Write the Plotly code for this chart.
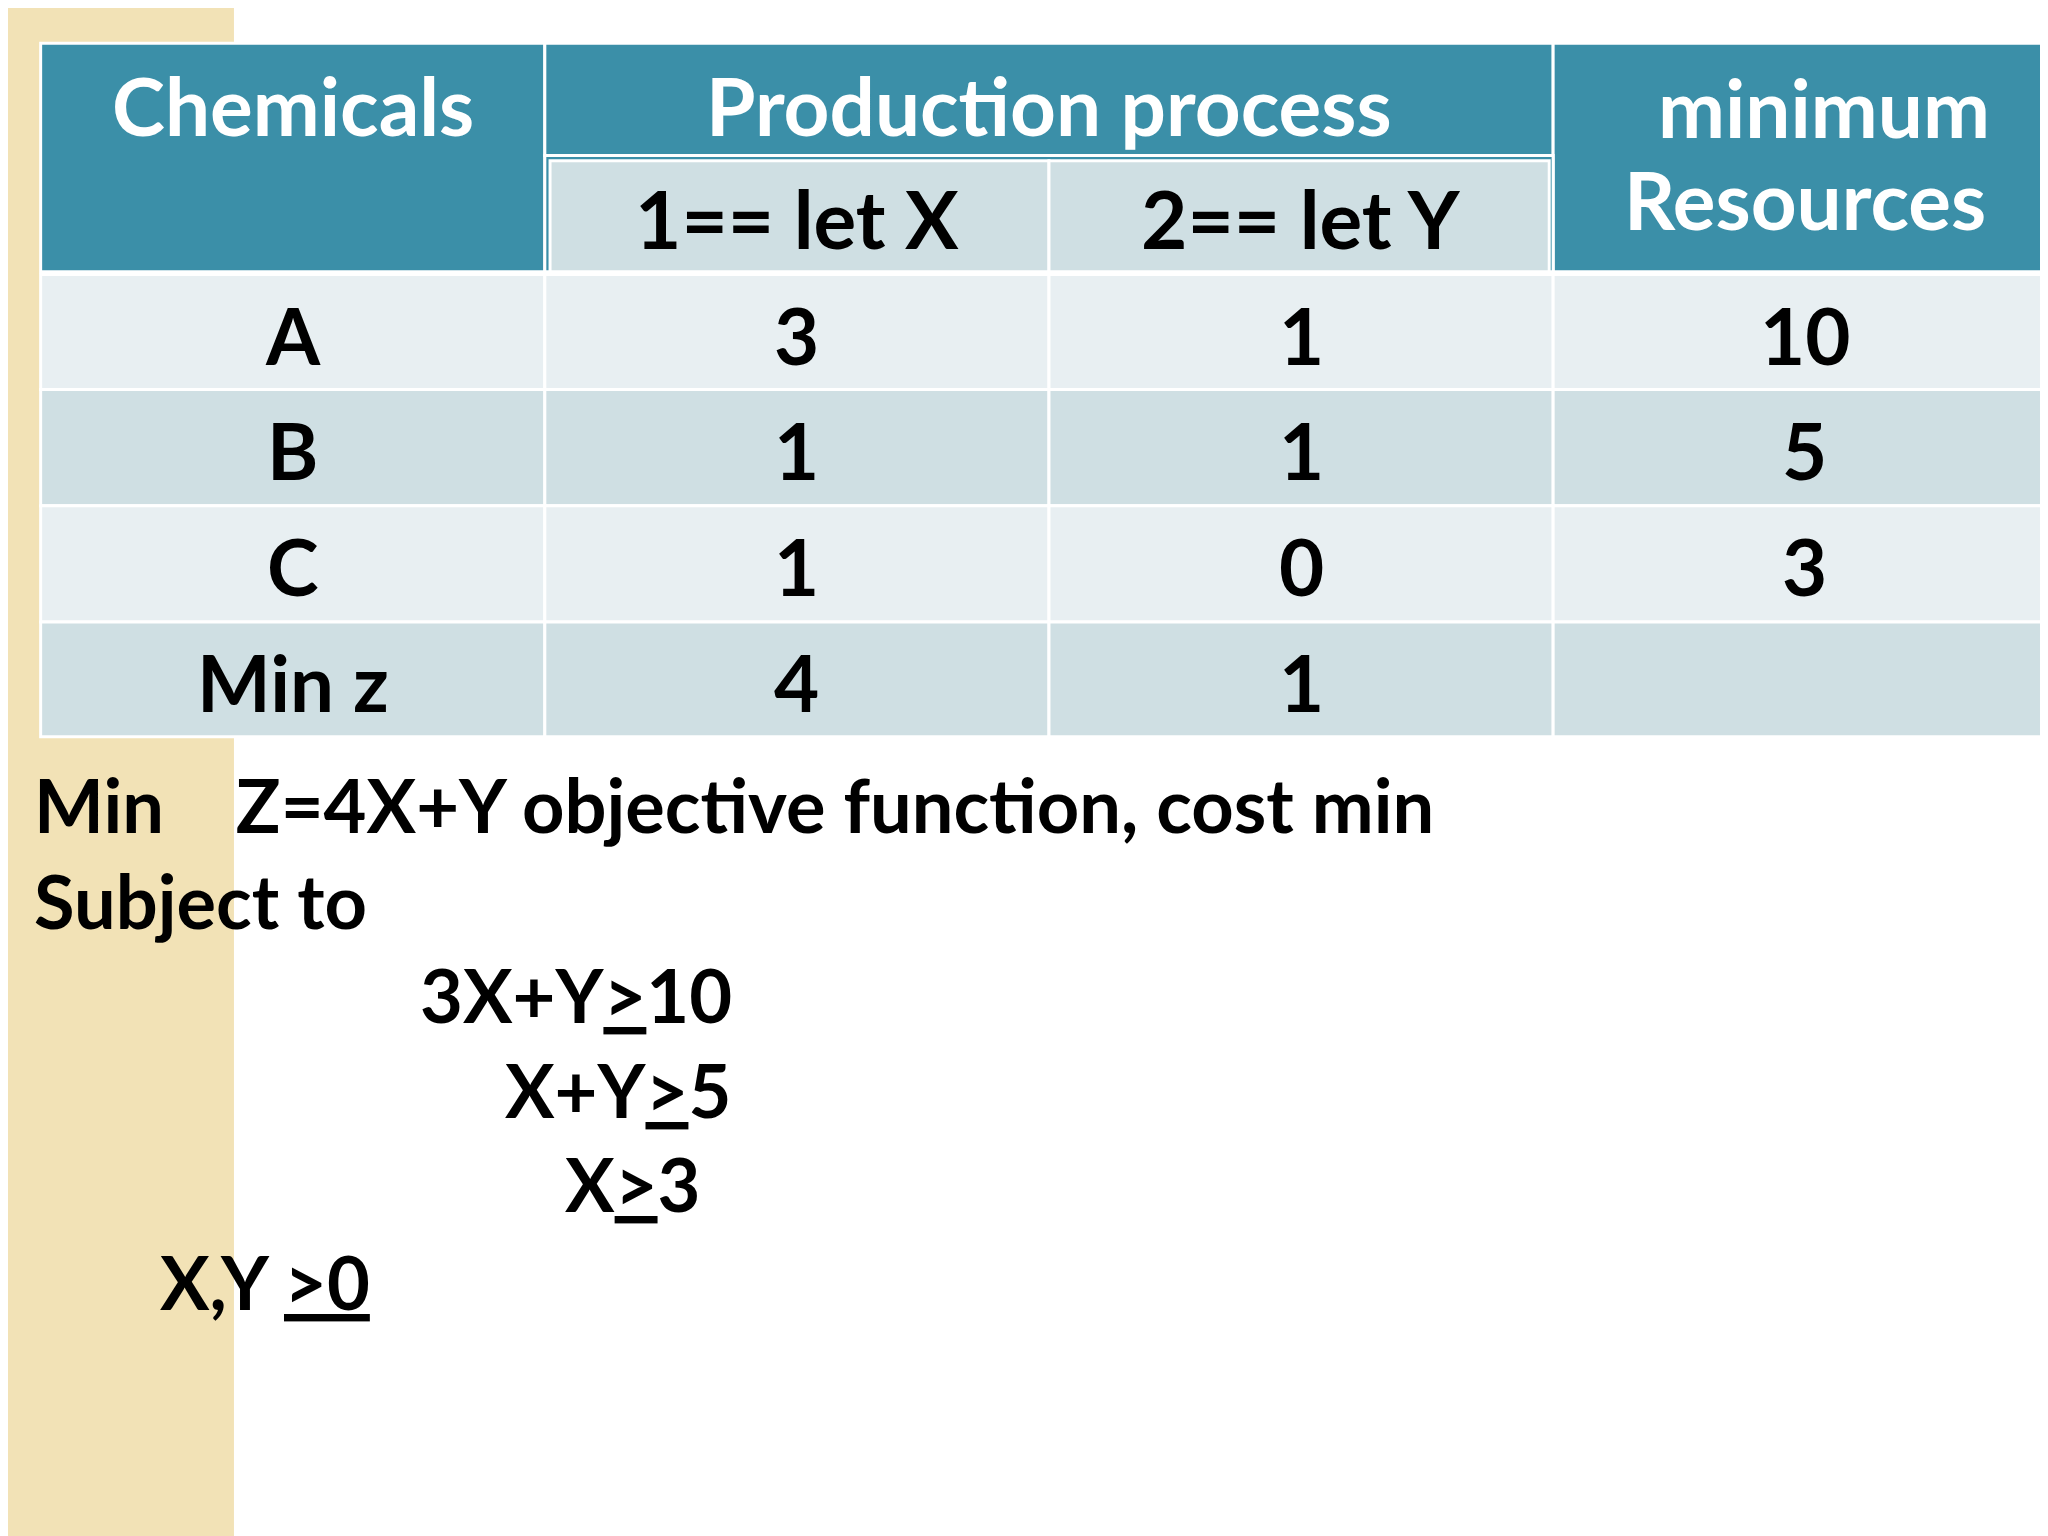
import plotly.graph_objects as go

# table content
row_labels = ["A", "B", "C", "Min z"]
x_values = ["3", "1", "1", "4"]
y_values = ["1", "1", "0", "1"]
resources = ["10", "5", "3", ""]
sub_headers = ["1== let X", "2== let Y"]

objective = "Min    Z=4X+Y objective function, cost min"
constraints = ["3X+Y<u>></u>10", "X+Y<u>></u>5", "X<u>></u>3"]

W, H = 1568, 1176  # work in reference pixel units, scaled to 2048x1536
TEAL = "#3B8FA8"
LIGHT = "#E8EFF2"
DARK = "#CFDFE3"
FONT = "Lato"

col_edges = [25, 411, 797, 1183, 1568]
row_edges = [204, 292, 381, 470, 558]

shapes = []
ann = []


def rect(x0, y0, x1, y1, color, line="white", lw=3):
    shapes.append(dict(type="rect", x0=x0, x1=x1, y0=y0, y1=y1, fillcolor=color,
                       line=dict(color=line, width=lw), layer="below"))


def text(x, y, s, size, color="black", anchor="center"):
    ann.append(dict(x=x, y=y, text=s, showarrow=False, xanchor=anchor, yanchor="middle",
                    font=dict(family=FONT, size=size, color=color)))


# background stripe
rect(0, 0, 173, H, "#F2E2B6", line="#F2E2B6", lw=0)

# header
rect(25, 27, 411, 202, TEAL)
rect(411, 27, 1183, 113, TEAL)
rect(1183, 27, 1568, 202, TEAL)
rect(411, 113, 1183, 202, TEAL)
rect(415, 117, 797, 202, DARK)
rect(797, 117, 1180, 202, DARK)
text(218, 74, "<b>Chemicals</b>", 80, "white")
text(797, 74, "<b>Production process</b>", 80, "white")
text(1390, 76, "<b>minimum</b>", 80, "white")
text(1376, 146, "<b>Resources</b>", 80, "white")
for i, s in enumerate(sub_headers):
    text((col_edges[i + 1] + col_edges[i + 2]) / 2, 161, "<b>" + s + "</b>", 80)

# body
for r in range(4):
    color = LIGHT if r % 2 == 0 else DARK
    y0, y1 = row_edges[r], row_edges[r + 1]
    cells = [row_labels[r], x_values[r], y_values[r], resources[r]]
    for c in range(4):
        rect(col_edges[c], y0, col_edges[c + 1], y1, color)
        text((col_edges[c] + col_edges[c + 1]) / 2, (y0 + y1) / 2 + 2, "<b>" + cells[c] + "</b>", 78)

# formulation
text(18, 610, "<b>" + objective + "</b>", 74, anchor="left")
text(18, 683, "<b>Subject to</b>", 74, anchor="left")
cx = [435, 467, 478]
cy = [755, 828, 900]
for s, x, y in zip(constraints, cx, cy):
    text(x, y, "<b>" + s + "</b>", 74)
text(197, 975, "<b>X,Y <u>>0</u></b>", 74)

fig = go.Figure()
fig.update_layout(
    width=2048, height=1536, margin=dict(l=0, r=0, t=0, b=0),
    paper_bgcolor="white", plot_bgcolor="white", showlegend=False,
    xaxis=dict(range=[0, W], visible=False, fixedrange=True),
    yaxis=dict(range=[H, 0], visible=False, fixedrange=True),
    shapes=shapes, annotations=ann,
)
fig.write_html("out.html")
